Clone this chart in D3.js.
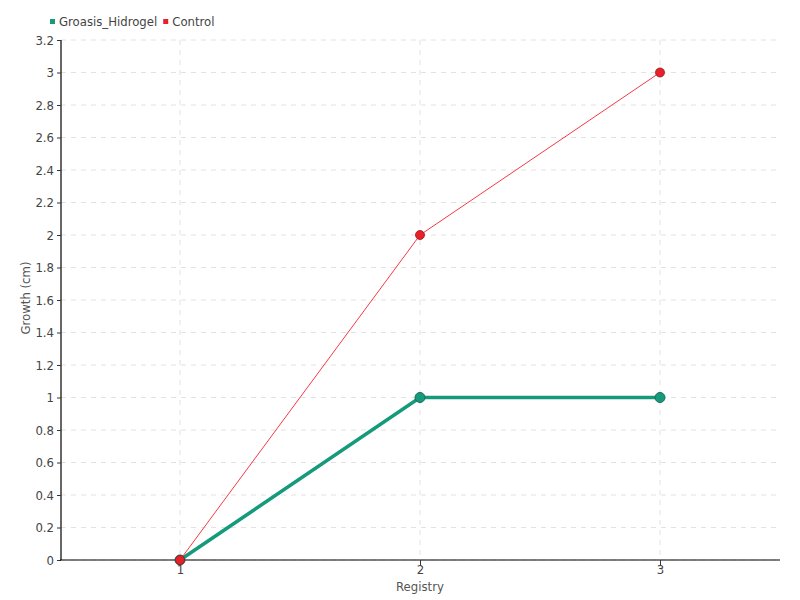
<!DOCTYPE html>
<html><head><meta charset="utf-8">
<script src="https://cdn.jsdelivr.net/npm/d3@7"></script>
<style>
body{margin:0;background:#fff;}
svg text{font-family:"DejaVu Sans Condensed","DejaVu Sans",sans-serif;font-stretch:condensed;}
</style></head>
<body>
<svg id="c" width="800" height="600"></svg>
<script>
const registry = [1, 2, 3];
const hidrogel = [0, 1, 1];
const control = [0, 2, 3];
const yTicks = [0,0.2,0.4,0.6,0.8,1,1.2,1.4,1.6,1.8,2,2.2,2.4,2.6,2.8,3,3.2];
const seriesNames = ["Groasis_Hidrogel", "Control"];
const colors = ["#159a7c", "#e8202a"];

const svg = d3.select("#c");
const x = d3.scaleLinear().domain([0.5, 3.5]).range([60, 780]);
const y = d3.scaleLinear().domain([0, 3.2]).range([560, 40]);

// grid
const grid = svg.append("g");
grid.selectAll("line.h").data(yTicks).join("line")
  .attr("x1", 61).attr("x2", 780).attr("y1", d => y(d)).attr("y2", d => y(d))
  .attr("stroke", "#e2e2e2").attr("stroke-dasharray", "5,5");
grid.selectAll("line.v").data(registry).join("line")
  .attr("x1", d => x(d)).attr("x2", d => x(d)).attr("y1", 40).attr("y2", 560)
  .attr("stroke", "#e2e2e2").attr("stroke-dasharray", "5,5");

// axes
const yAxis = svg.append("g").attr("transform", "translate(61,0)")
  .call(d3.axisLeft(y).tickValues(yTicks).tickSize(4).tickPadding(3).tickFormat(d3.format("~g")));
const xAxis = svg.append("g").attr("transform", "translate(0,560)")
  .call(d3.axisBottom(x).tickValues(registry).tickSize(5).tickPadding(0).tickFormat(d3.format("d")));
[yAxis, xAxis].forEach(a => {
  a.select(".domain").attr("stroke", "#000").attr("stroke-width", 1.2);
  a.selectAll(".tick line").attr("stroke", "#333");
  a.selectAll(".tick text").attr("fill", "#444").attr("font-size", 13)
    .attr("font-family", null);
});
yAxis.select(".domain").attr("d", "M0,40V560");
xAxis.select(".domain").attr("d", "M60,0H780");

// titles
svg.append("text").attr("x", 420).attr("y", 591).attr("text-anchor", "middle")
  .attr("font-size", 13).attr("fill", "#555").text("Registry");
svg.append("text").attr("transform", "translate(30,298) rotate(-90)").attr("text-anchor", "middle")
  .attr("font-size", 13).attr("fill", "#555").text("Growth (cm)");

// lines
const line = d3.line().x((d, i) => x(registry[i])).y(d => y(d));
svg.append("path").datum(hidrogel).attr("d", line).attr("fill", "none")
  .attr("stroke", colors[0]).attr("stroke-width", 3.5);
svg.append("path").datum(control).attr("d", line).attr("fill", "none")
  .attr("stroke", "#f43a46").attr("stroke-width", 1);

svg.append("g").selectAll("circle").data(hidrogel).join("circle")
  .attr("cx", (d, i) => x(registry[i])).attr("cy", d => y(d)).attr("r", 5)
  .attr("fill", colors[0]).attr("stroke", "#1b6b55").attr("stroke-width", 1);
svg.append("g").selectAll("circle").data(control).join("circle")
  .attr("cx", (d, i) => x(registry[i])).attr("cy", d => y(d)).attr("r", 4.5)
  .attr("fill", colors[1]).attr("stroke", "#a0141c").attr("stroke-width", 0.8);

// legend
const leg = svg.append("g");
let lx = 50;
seriesNames.forEach((n, i) => {
  leg.append("rect").attr("x", lx).attr("y", 19).attr("width", 5).attr("height", 5).attr("fill", colors[i]);
  const t = leg.append("text").attr("x", lx + 9).attr("y", 26).attr("font-size", 13).attr("fill", "#444").text(n);
  lx += 9 + t.node().getComputedTextLength() + 6;
});
</script>
</body></html>
